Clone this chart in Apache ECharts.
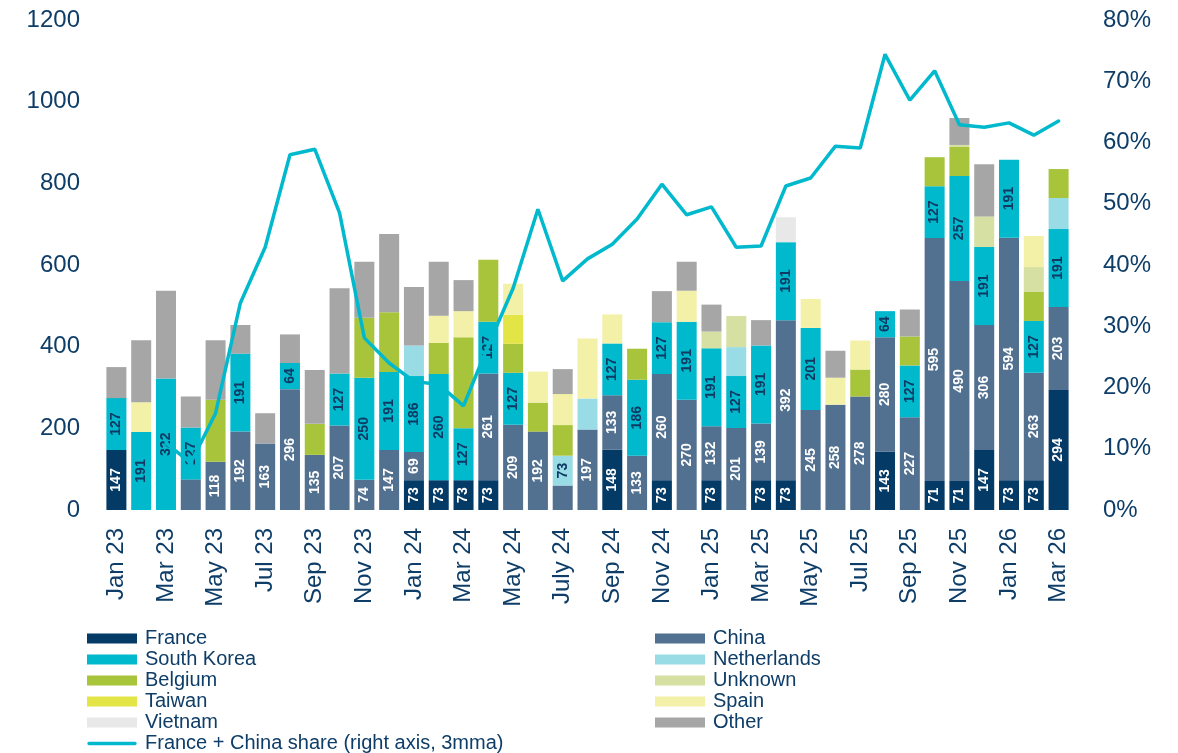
<!DOCTYPE html>
<html>
<head>
<meta charset="utf-8">
<script src="https://cdn.jsdelivr.net/npm/echarts@6/dist/echarts.min.js"></script>
<style>
html,body{margin:0;padding:0;background:#fff;}
#chart{width:1178px;height:753px;}
</style>
</head>
<body>
<div id="chart"></div>
<script>
const months = ['Jan 23','Feb 23','Mar 23','Apr 23','May 23','Jun 23','Jul 23','Aug 23','Sep 23','Oct 23','Nov 23','Dec 23',
  'Jan 24','Feb 24','Mar 24','Apr 24','May 24','Jun 24','July 24','Aug 24','Sep 24','Oct 24','Nov 24','Dec 24',
  'Jan 25','Feb 25','Mar 25','Apr 25','May 25','Jun 25','Jul 25','Aug 25','Sep 25','Oct 25','Nov 25','Dec 25',
  'Jan 26','Feb 26','Mar 26'];
const _ = null;
const france      = [147,_,_,_,_,_,_,_,_,_,_,_, 73,73,73,73,_,_,_,_,148,_,73,_, 73,_,73,73,_,_,_,143,_,71,71,147, 73,73,294];
const china       = [_,_,_,75,118,192,163,296,135,207,74,147, 69,_,_,261,209,192,60,197,133,133,260,270, 132,201,139,392,245,258,278,280,227,595,490,306, 594,263,203];
const southKorea  = [127,191,322,127,_,191,_,64,_,127,250,191, 186,260,127,127,127,_,_,_,127,186,127,191, 191,127,191,191,201,_,_,64,127,127,257,191, 191,127,191];
const netherlands = [_,_,_,_,_,_,_,_,_,_,_,_, 75,_,_,_,_,_,73,76,_,_,_,_, _,71,_,_,_,_,_,_,_,_,_,_, _,_,76];
const belgium     = [_,_,_,_,152,_,_,_,76,_,147,146, _,76,223,152,71,71,75,_,_,76,_,_, _,_,_,_,_,_,66,_,71,71,71,_, _,71,71];
const unknown     = [_,_,_,_,_,_,_,_,_,_,_,_, _,_,_,_,_,_,_,_,_,_,_,_, 41,76,_,_,_,_,_,_,_,_,5,75, _,61,_];
const taiwan      = [_,_,_,_,_,_,_,_,_,_,_,_, _,_,_,_,71,_,_,_,_,_,_,_, _,_,_,_,_,_,_,_,_,_,_,_, _,_,_];
const spain       = [_,73,_,_,_,_,_,_,_,_,_,_, _,67,64,_,76,76,76,147,71,_,_,76, _,_,_,_,71,66,71,_,_,_,_,_, _,76,_];
const vietnam     = [_,_,_,_,_,_,_,_,_,_,_,_, _,_,_,_,_,_,_,_,_,_,_,_, _,_,_,61,_,_,_,_,_,_,_,_, _,_,_];
const other       = [76,152,215,76,146,70,74,70,132,209,137,192, 143,132,76,_,_,_,61,_,_,_,76,71, 66,_,62,_,_,66,_,_,66,_,66,128, _,_,_];
const shareFC     = [_,_,10.9,7.7,15.8,33.8,42.9,58.0,58.9,48.5,28.1,24.0, 21.0,20.5,17.0,26.9,36.2,49.1,37.4,41.0,43.4,47.5,53.2,48.2,
  49.5,42.9,43.1,52.9,54.2,59.4,59.1,74.4,66.9,71.7,62.9,62.5, 63.2,61.2,63.5];
const chinaUnlabeled = ['Apr 23','July 24'];
const netherlandsLabeled = ['July 24'];
const leftTicks = [0,200,400,600,800,1000,1200];
const rightTicks = [0,10,20,30,40,50,60,70,80];

const NAVY = '#0e3d68';
const FONT = 'Liberation Sans, Arial, sans-serif';
const lineName = 'France + China share (right axis, 3mma)';

function lbl(color){
  return {show:true, position:'inside', rotate:90, color:color, fontSize:14, fontWeight:'bold', fontFamily:FONT};
}
function barSeries(name, data, color, labelColor, labelFilter){
  return {
    name:name, type:'bar', stack:'total', barWidth:20, z:2,
    itemStyle:{color:color},
    label: labelColor ? lbl(labelColor) : {show:false},
    data: data.map((v,i)=>{
      if (v === null) return null;
      if (labelFilter && !labelFilter(months[i])) return {value:v, label:{show:false}};
      return v;
    })
  };
}
const legendText = {fontSize:20, lineHeight:21, color:NAVY, fontFamily:FONT, padding:[0,0,0,3]};
const rectItems = names => names.map(n => ({name:n, icon:'rect'}));
const lineIcon = 'path://M0,0 M2,3.3 L48,3.3 A1.7,1.7 0 0 1 48,6.7 L2,6.7 A1.7,1.7 0 0 1 2,3.3 Z M50,10';

const chart = echarts.init(document.getElementById('chart'), null, {renderer:'canvas'});
chart.setOption({
  animation:false,
  textStyle:{fontFamily:FONT},
  grid:{left:104, right:107, top:20, bottom:243, containLabel:false},
  legend:[
    {data:rectItems(['France','South Korea','Belgium','Taiwan','Vietnam']).concat([{name:lineName, icon:lineIcon}]),
     orient:'vertical', left:87, top:628,
     height:300, padding:0, itemWidth:50, itemHeight:10, itemGap:0, textStyle:legendText},
    {data:rectItems(['China','Netherlands','Unknown','Spain','Other']), orient:'vertical', left:655, top:628,
     height:300, padding:0, itemWidth:50, itemHeight:10, itemGap:0, textStyle:legendText}
  ],
  xAxis:{
    type:'category', data:months,
    axisLine:{show:false}, axisTick:{show:false},
    axisLabel:{interval:1, rotate:90, color:NAVY, fontSize:24, margin:18, fontFamily:FONT}
  },
  yAxis:[
    {type:'value', min:leftTicks[0], max:leftTicks[leftTicks.length-1], interval:200,
     splitLine:{show:false}, axisLine:{show:false}, axisTick:{show:false},
     axisLabel:{color:NAVY, fontSize:24, margin:24, fontFamily:FONT, formatter:v=>String(v)}},
    {type:'value', min:rightTicks[0], max:rightTicks[rightTicks.length-1], interval:10, position:'right',
     splitLine:{show:false}, axisLine:{show:false}, axisTick:{show:false},
     axisLabel:{color:NAVY, fontSize:24, margin:32, fontFamily:FONT, formatter:'{value}%'}}
  ],
  series:[
    barSeries('France', france, '#043a66', '#ffffff'),
    barSeries('China', china, '#52708f', '#ffffff', m=>!chinaUnlabeled.includes(m)),
    barSeries('South Korea', southKorea, '#00b9cd', '#0e3a63'),
    barSeries('Netherlands', netherlands, '#9adce6', '#0e3a63', m=>netherlandsLabeled.includes(m)),
    barSeries('Belgium', belgium, '#a7c43a'),
    barSeries('Unknown', unknown, '#d5e0a2'),
    barSeries('Taiwan', taiwan, '#e3e446'),
    barSeries('Spain', spain, '#f3f0a8'),
    barSeries('Vietnam', vietnam, '#e8e8e8'),
    barSeries('Other', other, '#a6a6a6'),
    {name:lineName, type:'line', yAxisIndex:1, data:shareFC, symbol:'none', z:5,
     lineStyle:{color:'#00b9cd', width:3.5, cap:'round'}, itemStyle:{color:'#00b9cd'}}
  ]
});
</script>
</body>
</html>
